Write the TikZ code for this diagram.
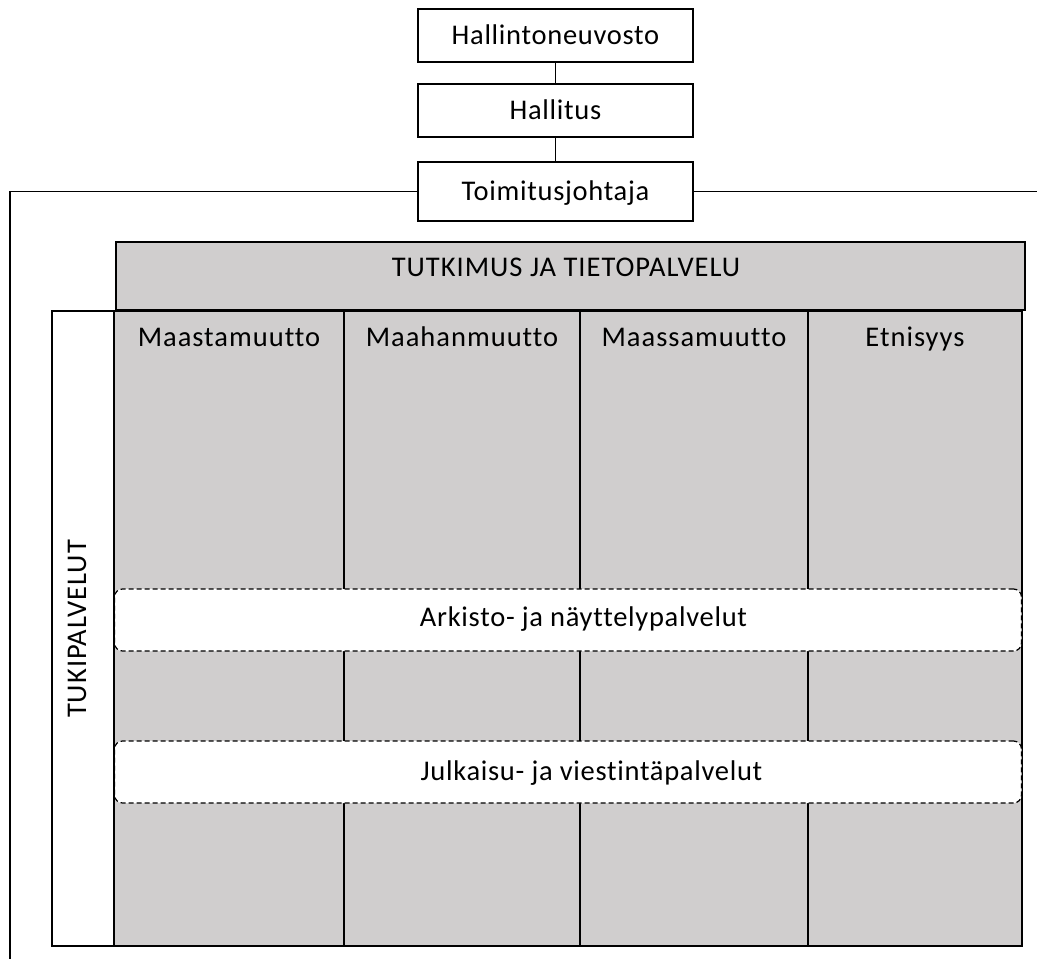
\documentclass[tikz,border=0pt]{standalone}
\usepackage{fontspec}
\setmainfont{Carlito}[Ligatures=NoCommon]
\newfontfamily\topfont[LetterSpace=2.5,Ligatures=NoCommon]{Carlito}
\newfontfamily\spacedfont[LetterSpace=3.5,Ligatures=NoCommon]{Carlito}
\definecolor{boxgray}{HTML}{D0CECE}
\begin{document}
\begin{tikzpicture}[x=1pt,y=-1pt,
  every node/.style={inner sep=0pt, outer sep=0pt},
  txt/.style={font=\fontsize{28.5}{34}\selectfont\topfont, text height=18pt, text depth=0pt},
  sptxt/.style={font=\fontsize{28.5}{34}\selectfont\spacedfont, text height=18pt, text depth=0pt},
  topbox/.style={txt, draw=black, line width=1.4pt, fill=white, minimum width=275pt},
  graybox/.style={draw=black, line width=1.4pt, fill=boxgray},
  colbox/.style={graybox, minimum height=635pt},
  dashbox/.style={draw=black, line width=1.2pt, dash pattern=on 5pt off 3pt, fill=white, rounded corners=8pt, minimum width=907pt, minimum height=62pt},
  conn/.style={draw=black, line width=1.4pt}
]
\useasboundingbox (0,0) rectangle (1037,959);

% top hierarchy
\node[topbox, minimum height=53pt] (hn) at (555.5,35.5) {Hallintoneuvosto};
\node[topbox, minimum height=53pt] (hal) at (555.5,110.5) {Hallitus};
\node[topbox, minimum height=59pt] (tj) at (555.5,191.5) {Toimitusjohtaja};
\coordinate (lc) at (10,959);
\coordinate (rc) at (1037,191.5);
\draw[conn] (hn) -- (hal);
\draw[conn] (hal) -- (tj);
\draw[conn] (tj.west) -| (lc);
\draw[conn] (tj.east) -- (rc);

% outer support box
\node[draw=black, line width=1.4pt, fill=white, minimum width=970pt, minimum height=635pt] (tuki) at (537,628.5) {};

% columns
\node[colbox, minimum width=230pt] (c1) at (229,628.5) {};
\node[colbox, minimum width=236pt] (c2) at (462,628.5) {};
\node[colbox, minimum width=228pt] (c3) at (694,628.5) {};
\node[colbox, minimum width=214pt] (c4) at (915,628.5) {};

% research box
\node[graybox, minimum width=909pt, minimum height=68pt] (tut) at (570.5,276) {};
\node[sptxt] (tutt) at (566,267.7) {TUTKIMUS JA TIETOPALVELU};

% dashed service bands
\node[dashbox] (ark) at (568,620) {};
\node[dashbox] (jul) at (568,772) {};
\draw[conn] (c1.north west) -- (c1.south west);

% labels
\node[sptxt] (c1t) at (229,337.7) {Maastamuutto};
\node[sptxt] (c2t) at (462,337.7) {Maahanmuutto};
\node[sptxt] (c3t) at (694,337.7) {Maassamuutto};
\node[sptxt] (c4t) at (915,337.7) {Etnisyys};
\node[txt] (arkt) at (583.5,617.5) {Arkisto- ja näyttelypalvelut};
\node[txt] (jult) at (591.5,771) {Julkaisu- ja viestintäpalvelut};
\node[sptxt, rotate=90] (tukit) at (77,629) {TUKIPALVELUT};
\end{tikzpicture}
\end{document}
